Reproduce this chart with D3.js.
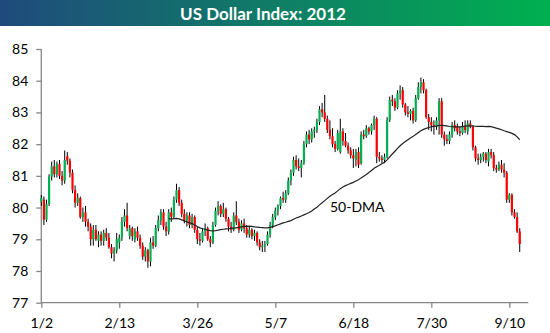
<!DOCTYPE html>
<html><head><meta charset="utf-8">
<script src="https://cdn.jsdelivr.net/npm/d3@7"></script>
<style>
body{margin:0;background:#fff;}
svg text{font-family:Lato,"Open Sans",sans-serif;}
</style></head>
<body><svg id="c" width="550" height="333"></svg>
<script>
// Trading-day tick labels (every 30th trading day)
const tickIndex = [0, 30, 60, 90, 120, 150, 180];
const tickLabels = ["1/2", "2/13", "3/26", "5/7", "6/18", "7/30", "9/10"];
const yTicks = [77, 78, 79, 80, 81, 82, 83, 84, 85];

// Daily OHLC, Jan 2 – Sep 14 2012 (one line per week)
const openValues = [
 80.18,80.25,79.62,80.12,80.98,
 81.30,81.05,81.38,81.00,80.85,
 81.62,81.48,81.10,80.55,80.15,
 80.30,79.70,79.85,79.55,79.40,
 79.00,79.30,78.95,79.15,78.95,
 79.20,79.05,78.75,78.55,78.65,
 78.90,79.05,79.55,79.75,79.10,
 79.35,79.00,79.25,79.05,78.80,
 78.45,78.65,78.30,78.90,78.80,
 79.35,79.60,79.85,79.40,79.25,
 79.85,79.70,80.25,80.55,80.15,
 79.80,79.60,79.75,79.45,79.70,
 79.30,79.00,78.95,79.25,79.35,
 79.00,78.90,79.45,79.90,80.05,
 79.80,79.95,79.65,79.40,79.30,
 79.75,79.55,79.30,79.50,79.35,
 79.15,79.30,79.10,79.20,78.90,
 78.75,78.80,78.85,79.15,79.45,
 79.70,79.90,80.05,80.30,80.25,
 80.45,80.85,81.10,81.50,81.30,
 81.25,81.40,82.00,82.30,82.15,
 82.40,82.45,82.70,83.10,83.00,
 82.80,82.45,82.25,82.00,81.85,
 81.75,82.40,82.10,81.95,81.80,
 81.65,81.50,81.75,81.40,82.30,
 82.25,82.50,82.40,82.60,82.80,
 81.60,81.55,81.50,81.60,82.75,
 83.40,83.35,83.15,83.60,83.70,
 83.25,83.00,82.95,83.05,82.75,
 83.45,83.80,83.95,83.70,82.85,
 82.70,82.60,82.55,82.75,83.35,
 82.30,82.15,82.10,82.30,82.60,
 82.55,82.40,82.35,82.55,82.40,
 82.65,82.55,81.90,81.55,81.50,
 81.60,81.70,81.45,81.75,81.65,
 81.25,81.20,81.35,81.20,81.10,
 80.25,80.40,79.85,79.70,79.25];
const highValues = [
 80.40,80.35,80.25,81.05,81.45,
 81.50,81.45,81.50,81.15,81.80,
 81.75,81.55,81.20,80.70,80.45,
 80.35,80.00,80.05,79.65,79.50,
 79.45,79.45,79.25,79.25,79.30,
 79.35,79.20,78.85,78.75,79.20,
 79.15,79.70,79.95,80.15,79.45,
 79.40,79.35,79.40,79.15,78.90,
 78.75,78.70,79.05,79.10,79.45,
 79.75,79.95,79.95,79.55,79.95,
 80.00,80.35,80.75,80.65,80.25,
 79.95,79.85,79.85,79.80,79.75,
 79.40,79.20,79.35,79.50,79.40,
 79.10,79.55,80.00,80.20,80.10,
 80.15,80.00,79.70,79.55,79.85,
 80.20,79.65,79.60,79.65,79.45,
 79.40,79.35,79.30,79.25,79.00,
 78.95,78.95,79.25,79.55,79.80,
 80.00,80.10,80.35,80.50,80.55,
 80.95,81.20,81.60,81.65,81.55,
 81.50,82.10,82.40,82.45,82.50,
 82.55,82.80,83.20,83.30,83.55,
 82.90,82.75,82.50,82.10,82.45,
 82.80,82.50,82.35,82.05,81.90,
 81.85,81.85,81.90,82.40,82.45,
 82.60,82.55,82.65,82.90,82.85,
 81.75,81.65,81.70,82.85,83.50,
 83.55,83.45,83.70,83.85,83.80,
 83.30,83.20,83.10,83.15,83.55,
 83.95,84.10,84.05,83.75,82.95,
 82.85,82.75,82.85,83.45,83.45,
 82.40,82.30,82.40,82.70,82.75,
 82.65,82.55,82.70,82.75,82.75,
 82.75,82.60,81.95,81.70,81.70,
 81.75,81.75,81.85,81.85,81.75,
 81.35,81.45,81.50,81.40,81.15,
 80.45,80.45,79.95,79.85,79.35];
const lowValues = [
 80.05,79.45,79.55,80.05,80.85,
 80.95,80.95,80.90,80.70,80.75,
 81.35,80.95,80.45,80.00,80.05,
 79.65,79.55,79.40,79.25,78.80,
 78.80,78.95,78.75,78.80,78.80,
 78.95,78.70,78.40,78.30,78.55,
 78.70,78.95,79.40,79.25,79.00,
 78.95,78.90,78.95,78.70,78.35,
 78.30,78.10,78.15,78.70,78.75,
 79.25,79.45,79.30,79.10,79.15,
 79.55,79.65,80.15,80.05,79.70,
 79.50,79.40,79.35,79.35,79.20,
 78.85,78.80,78.90,79.10,78.95,
 78.75,78.85,79.40,79.75,79.70,
 79.70,79.55,79.25,79.20,79.25,
 79.45,79.20,79.25,79.20,79.05,
 79.05,79.00,78.95,78.80,78.65,
 78.60,78.60,78.80,79.05,79.35,
 79.60,79.75,79.95,80.15,80.15,
 80.40,80.70,81.00,81.20,81.15,
 80.95,81.35,81.90,82.00,82.05,
 82.20,82.35,82.60,82.85,82.70,
 82.35,82.15,81.90,81.75,81.80,
 81.70,81.95,81.90,81.70,81.55,
 81.25,81.30,81.25,81.35,82.15,
 82.20,82.30,82.30,82.45,81.40,
 81.45,81.40,81.40,81.55,82.70,
 83.20,83.05,83.10,83.40,83.15,
 82.90,82.85,82.75,82.65,82.70,
 83.40,83.60,83.60,82.80,82.45,
 82.40,82.30,82.45,82.30,82.20,
 81.95,82.00,82.00,82.20,82.40,
 82.30,82.25,82.30,82.35,82.30,
 82.50,81.80,81.45,81.35,81.40,
 81.45,81.40,81.30,81.55,81.15,
 81.10,81.15,81.10,80.95,80.15,
 80.15,79.75,79.65,79.20,78.60];
const closeValues = [
 80.30,79.62,80.12,80.98,81.30,
 81.05,81.38,81.00,80.85,81.50,
 81.48,81.10,80.55,80.15,80.30,
 79.70,79.85,79.55,79.40,79.00,
 79.30,79.00,79.15,78.95,79.20,
 79.05,78.75,78.55,78.65,79.00,
 79.05,79.55,79.75,79.35,79.35,
 79.10,79.25,79.05,78.80,78.45,
 78.65,78.30,78.90,78.80,79.35,
 79.60,79.85,79.40,79.25,79.85,
 79.70,80.25,80.55,80.15,79.80,
 79.60,79.75,79.45,79.70,79.30,
 79.00,78.95,79.25,79.35,79.00,
 78.90,79.45,79.90,80.05,79.80,
 79.95,79.65,79.40,79.30,79.75,
 79.55,79.30,79.50,79.35,79.15,
 79.30,79.10,79.20,78.90,78.75,
 78.80,78.85,79.15,79.45,79.70,
 79.90,80.05,80.30,80.25,80.45,
 80.85,81.10,81.50,81.30,81.25,
 81.40,82.00,82.30,82.15,82.40,
 82.45,82.70,83.10,83.00,82.80,
 82.45,82.25,82.00,81.85,82.35,
 82.40,82.10,81.95,81.80,81.65,
 81.55,81.75,81.35,82.30,82.25,
 82.50,82.40,82.60,82.80,81.60,
 81.55,81.50,81.60,82.75,83.40,
 83.35,83.15,83.60,83.70,83.25,
 83.00,82.95,83.05,82.75,83.45,
 83.80,83.95,83.70,82.85,82.70,
 82.60,82.55,82.75,83.35,82.30,
 82.15,82.10,82.30,82.60,82.50,
 82.40,82.35,82.55,82.45,82.65,
 82.55,81.90,81.55,81.50,81.60,
 81.70,81.50,81.75,81.65,81.25,
 81.20,81.35,81.20,81.10,80.25,
 80.40,79.85,79.70,79.25,78.85];
const maWindow = 50;

const svg = d3.select("#c");
const W = 550;

// Title bar
const defs = svg.append("defs");
const grad = defs.append("linearGradient").attr("id","tg").attr("x1","0").attr("x2","1").attr("y1","0").attr("y2","0");
grad.append("stop").attr("offset","0").attr("stop-color","#1f4a7c");
grad.append("stop").attr("offset","1").attr("stop-color","#00b050");
svg.append("rect").attr("x",0).attr("y",0).attr("width",W).attr("height",26).attr("fill","url(#tg)");
svg.append("text").attr("x",263).attr("y",19.5).attr("text-anchor","middle")
  .attr("fill","#fff").attr("font-weight","bold").attr("font-size",17).text("US Dollar Index: 2012");

const x = d3.scaleLinear().domain([0, 187.3]).range([41.3, 528.3]);
const y = d3.scaleLinear().domain([77, 85]).range([302.7, 49]);

// Axes
const yAxis = d3.axisLeft(y).tickValues(yTicks).tickSize(5).tickPadding(8).tickFormat(d3.format("d"));
const gy = svg.append("g").attr("transform","translate(41.3,0)").call(yAxis);
const xAxis = d3.axisBottom(x).tickValues(tickIndex).tickSize(5).tickPadding(10)
  .tickFormat((d,i)=>tickLabels[i]);
const gx = svg.append("g").attr("transform","translate(0,302.7)").call(xAxis);
[gx, gy].forEach(g=>{
  g.select(".domain").attr("stroke","#868686").attr("stroke-width",1.3);
  g.selectAll(".tick line").attr("stroke","#868686").attr("stroke-width",1.3);
  g.selectAll(".tick text").attr("fill","#000").attr("font-size",14)
    .style("font-family","Lato,'Open Sans',sans-serif");
});
gx.select(".domain").attr("d","M41.3,0H528.3");
gy.select(".domain").attr("d","M0,49V302.7");

// Candles
const idx = d3.range(closeValues.length);
const cg = svg.append("g");
cg.selectAll("line.wick").data(idx).join("line").attr("class","wick")
  .attr("x1",i=>x(i)).attr("x2",i=>x(i))
  .attr("y1",i=>y(highValues[i])).attr("y2",i=>y(lowValues[i]))
  .attr("stroke","#000").attr("stroke-width",1);
const bw = 2.2;
cg.selectAll("rect.body").data(idx).join("rect").attr("class","body")
  .attr("x",i=>x(i)-bw/2).attr("width",bw)
  .attr("y",i=>y(Math.max(openValues[i],closeValues[i])))
  .attr("height",i=>Math.max(1, Math.abs(y(openValues[i])-y(closeValues[i]))))
  .attr("fill",i=>closeValues[i]>=openValues[i] ? "#00b050" : "#ff0000");

// 50-day moving average of closes
const ma = [];
for (let i = maWindow-1; i < closeValues.length; i++) {
  ma.push([i, d3.mean(closeValues.slice(i-maWindow+1, i+1))]);
}
svg.append("path").datum(ma)
  .attr("d", d3.line().x(d=>x(d[0])).y(d=>y(d[1])))
  .attr("fill","none").attr("stroke","#222").attr("stroke-width",1.2);
svg.append("text").attr("x",330).attr("y",212).attr("font-size",14).attr("fill","#000").text("50-DMA");
</script></body></html>
